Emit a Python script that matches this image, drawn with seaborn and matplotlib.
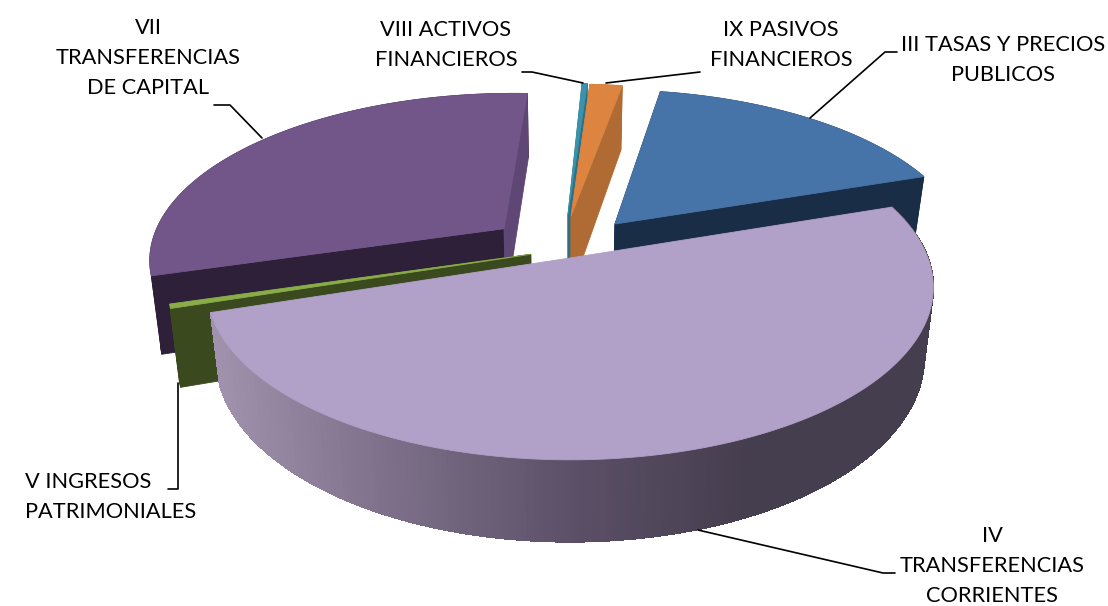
import numpy as np
import matplotlib
matplotlib.use('Agg')
import matplotlib.pyplot as plt
from matplotlib.patches import Polygon
import seaborn as sns

labels = ['III TASAS Y PRECIOS\nPUBLICOS', 'IV\nTRANSFERENCIAS\nCORRIENTES', 'V INGRESOS\nPATRIMONIALES',
          'VII\nTRANSFERENCIAS\nDE CAPITAL', 'VIII ACTIVOS\nFINANCIEROS', 'IX PASIVOS\nFINANCIEROS']
values = [17.03, 50.17, 0.4, 30.33, 0.28, 1.75]

# exploded apex of each slice on the pie plane
offset_u = [0.13, 0.0, -0.11, -0.19, -0.006, 0.003]
offset_v = [0.21, 0.0, 0.022, 0.18, 0.268, 0.261]
depths = [65, 68, 75, 77, 78, 78]
top_colors = ['#4674a8', '#b1a0c7', '#8aad4a', '#725589', '#3a93ab', '#dd8440']
face_colors = ['#1a2d47', '#453e4e', '#3a4a1e', '#2d2038', '#2b7085', '#b06a33']
end_colors = ['#1a2d47', '#453e4e', '#3a4a1e', '#5e4775', '#2b7085', '#b06a33']
draw_order = [3, 4, 5, 0, 2, 1]

CX, CY = 570, 258
B, A, K = 358, 167.5, 0.17
START = 80.0


def project(u, v, depth=0):
    s = 1 / (1 + K * v)
    x = CX + B * u * s
    y = CY - A * v * s
    if depth:
        x = CX + (x - CX) * 0.975
        y = y + depth * s
    return x, y


sns.set_theme(style='white')
plt.rcParams['font.family'] = ['Lato', 'DejaVu Sans']
fig, ax = plt.subplots(figsize=(11.08, 6.06), dpi=100)
fig.subplots_adjust(0, 0, 1, 1)
ax.set_xlim(0, 1108)
ax.set_ylim(606, 0)
ax.axis('off')

sweeps = np.array(values) / np.sum(values) * 360
ends = START - np.cumsum(sweeps)
starts = ends + sweeps
wall_ramp = sns.blend_palette(['#a193ae', '#7d6f89', '#5c5068', '#453e4e', '#453e4e'], 120)


def fill(points, color, z, aa=True):
    ax.add_patch(Polygon(points, closed=True, facecolor=color, edgecolor=color, linewidth=0.6, zorder=z, antialiased=aa))


z = 1
for i in draw_order:
    du, dv = offset_u[i], offset_v[i]
    t = np.radians(np.linspace(starts[i], ends[i], 300))
    us, vs = du + np.cos(t), dv + np.sin(t)
    upper = [project(a, b) for a, b in zip(us, vs)]
    lower = [project(a, b, depths[i]) for a, b in zip(us, vs)]
    apex = project(du, dv)
    apex_low = project(du, dv, depths[i])

    # big slice: cut faces point away, only the shaded wall shows
    if i == 1:
        for j in range(len(t) - 1):
            k = int(np.clip((upper[j][0] - 205) / 730 * 120, 0, 119))
            fill([upper[j], upper[j + 1], lower[j + 1], lower[j]], wall_ramp[k], z, aa=False)
    else:
        fill(upper + lower[::-1], face_colors[i], z)
        fill([apex, upper[0], lower[0], apex_low], face_colors[i], z)
        fill([apex, upper[-1], lower[-1], apex_low], end_colors[i], z)
    fill([apex] + upper, top_colors[i], z + 1)
    z += 2

text_x = [1003, 992, 111, 148, 446, 781]
text_y = [60, 566, 497, 58, 45, 45]
text_align = ['center', 'center', 'left', 'center', 'center', 'center']
for s, x, y, al in zip(labels, text_x, text_y, text_align):
    ax.text(x, y, s, ha='center', va='center', multialignment=al, fontsize=15.7, color='black', linespacing=1.6, zorder=30)

leaders = [([897, 885, 810], [52, 52, 118]),
           ([895, 883, 698], [573, 573, 530]),
           ([168, 178, 178], [489, 489, 383]),
           ([214, 230, 262], [105, 105, 138]),
           ([522, 532, 583], [72, 72, 83]),
           ([700, 606], [72, 83])]
for lx, ly in leaders:
    ax.plot(lx, ly, color='black', linewidth=1.2, zorder=29)

plt.savefig('out.png', dpi=100)
plt.close()
